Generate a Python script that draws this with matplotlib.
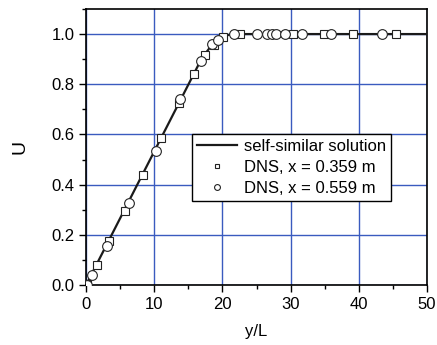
import numpy as np
import matplotlib.pyplot as plt
from matplotlib.ticker import MultipleLocator

plt.rcParams['font.family'] = ['Liberation Sans', 'DejaVu Sans']

# self-similar solution
sol_x = [0.0, 17.0, 18.5, 19.5, 20.5, 21.5, 50.0]
sol_y = [0.0, 0.905, 0.958, 0.980, 0.994, 1.0, 1.0]

# DNS, x = 0.359 m
sq_x = [0.2, 1.6, 3.4, 5.7, 8.3, 11.0, 13.6, 15.8, 17.5, 18.8, 20.1, 22.6, 30.3, 34.9, 39.1, 45.4]
sq_y = [0.005, 0.078, 0.175, 0.296, 0.437, 0.587, 0.724, 0.842, 0.918, 0.956, 0.99, 1.0, 1.0, 1.0, 1.0, 1.0]

# DNS, x = 0.559 m
ci_x = [0.1, 0.8, 3.0, 6.3, 10.2, 13.8, 16.9, 18.5, 19.3, 21.7, 25.0, 26.5, 27.2, 27.9, 29.2, 31.6, 35.9, 43.4]
ci_y = [0.0, 0.04, 0.155, 0.328, 0.535, 0.74, 0.891, 0.959, 0.976, 1.0, 1.0, 1.0, 1.0, 1.0, 1.0, 1.0, 1.0, 1.0]

fig = plt.figure(figsize=(4.37, 3.45), dpi=100)
ax = fig.add_axes([0.197, 0.174, 0.78, 0.80])

ax.plot(sol_x, sol_y, color='#1a1a1a', lw=1.6, zorder=3, label='self-similar solution')
ax.plot(sq_x, sq_y, ls='none', marker='s', ms=6, mfc='white', mec='#222222', mew=0.8,
        zorder=4, label='DNS, x = 0.359 m')
ax.plot(ci_x, ci_y, ls='none', marker='o', ms=7, mfc='white', mec='#222222', mew=0.8,
        zorder=5, label='DNS, x = 0.559 m')

ax.set_xlim(0, 50)
ax.set_ylim(0, 1.1)
ax.xaxis.set_major_locator(MultipleLocator(10))
ax.xaxis.set_minor_locator(MultipleLocator(5))
ax.yaxis.set_major_locator(MultipleLocator(0.2))
ax.yaxis.set_minor_locator(MultipleLocator(0.1))
ax.yaxis.set_major_formatter(plt.FuncFormatter(lambda v, p: '%.1f' % v))
ax.tick_params(which='both', direction='out', top=False, right=False, labelsize=12, width=1)
ax.tick_params(which='major', length=5)
ax.tick_params(which='minor', length=3)
ax.grid(True, which='major', color='#3a5bbf', lw=1)
ax.set_axisbelow(True)
for s in ax.spines.values():
    s.set_linewidth(1.2)

ax.set_xlabel('y/L', fontsize=12, labelpad=9)
ax.set_ylabel('U', fontsize=14, labelpad=16)

leg = ax.legend(loc='upper left', bbox_to_anchor=(0.311, 0.547), fontsize=12, frameon=True,
                fancybox=False, edgecolor='black', framealpha=1, markerscale=0.6,
                handlelength=2.4, borderpad=0.3, labelspacing=0.35, handletextpad=0.4,
                borderaxespad=0)
leg.get_frame().set_linewidth(1)

fig.savefig('out.png', dpi=100)
